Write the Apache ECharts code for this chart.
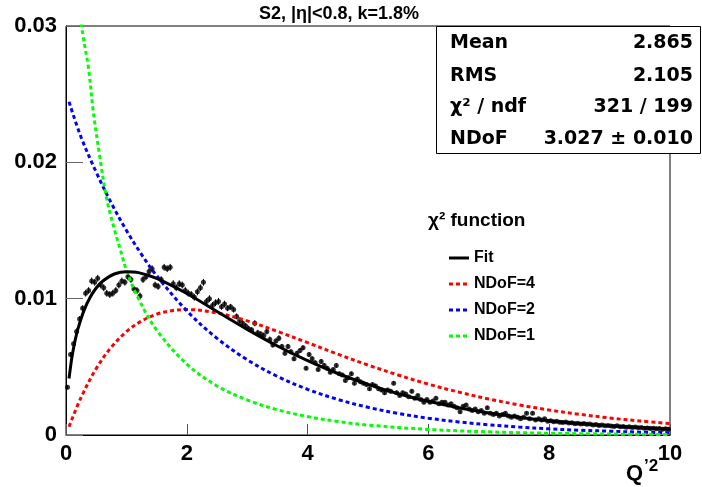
<!DOCTYPE html>
<html><head><meta charset="utf-8">
<script src="https://cdn.jsdelivr.net/npm/echarts@6/dist/echarts.min.js"></script>
<style>html,body{margin:0;padding:0;background:#fff}#c{width:702px;height:487px}</style>
</head><body><div id="c"></div>
<script>
// ---- data ----
const dataX = [
0.025,0.075,0.125,0.175,0.225,0.275,0.325,0.375,0.425,0.475,
0.525,0.575,0.625,0.675,0.725,0.775,0.825,0.875,0.925,0.975,
1.025,1.075,1.125,1.175,1.225,1.275,1.325,1.375,1.425,1.475,
1.525,1.575,1.625,1.675,1.725,1.775,1.825,1.875,1.925,1.975,
2.025,2.075,2.125,2.175,2.225,2.275,2.325,2.375,2.425,2.475,
2.525,2.575,2.625,2.675,2.725,2.775,2.825,2.875,2.925,2.975,
3.025,3.075,3.125,3.175,3.225,3.275,3.325,3.375,3.425,3.475,
3.525,3.575,3.625,3.675,3.725,3.775,3.825,3.875,3.925,3.975,
4.025,4.075,4.125,4.175,4.225,4.275,4.325,4.375,4.425,4.475,
4.525,4.575,4.625,4.675,4.725,4.775,4.825,4.875,4.925,4.975,
5.025,5.075,5.125,5.175,5.225,5.275,5.325,5.375,5.425,5.475,
5.525,5.575,5.625,5.675,5.725,5.775,5.825,5.875,5.925,5.975,
6.025,6.075,6.125,6.175,6.225,6.275,6.325,6.375,6.425,6.475,
6.525,6.575,6.625,6.675,6.725,6.775,6.825,6.875,6.925,6.975,
7.025,7.075,7.125,7.175,7.225,7.275,7.325,7.375,7.425,7.475,
7.525,7.575,7.625,7.675,7.725,7.775,7.825,7.875,7.925,7.975,
8.025,8.075,8.125,8.175,8.225,8.275,8.325,8.375,8.425,8.475,
8.525,8.575,8.625,8.675,8.725,8.775,8.825,8.875,8.925,8.975,
9.025,9.075,9.125,9.175,9.225,9.275,9.325,9.375,9.425,9.475,
9.525,9.575,9.625,9.675,9.725,9.775,9.825,9.875,9.925,9.975];
const dataY = [
0.0035,0.0059,0.0067,0.0076,0.0085,0.0093,0.0104,0.0106,0.0113,0.0112,
0.0115,0.0110,0.0108,0.0104,0.0103,0.0104,0.0106,0.0110,0.0113,0.0112,
0.0116,0.0114,0.0107,0.0106,0.0102,0.0114,0.0116,0.0120,0.0122,0.0110,
0.0109,0.0114,0.0123,0.0122,0.0123,0.0111,0.0108,0.0111,0.0110,0.0106,
0.0104,0.0103,0.0101,0.0105,0.0108,0.0112,0.0098,0.0100,0.0095,0.0097,
0.0098,0.0094,0.0096,0.0093,0.0094,0.0092,0.0087,0.0084,0.0082,0.0080,
0.0078,0.0077,0.0082,0.0075,0.0074,0.0073,0.0076,0.0070,0.0066,0.0069,
0.0071,0.0065,0.0060,0.0065,0.0061,0.0056,0.0060,0.0062,0.0064,0.0049,
0.0059,0.0056,0.0053,0.0048,0.0054,0.0051,0.0049,0.0046,0.0048,0.0051,
0.0045,0.0044,0.0040,0.0042,0.0045,0.0038,0.0041,0.0039,0.0038,0.0037,
0.0034,0.0037,0.0036,0.0034,0.0033,0.0031,0.0033,0.0032,0.0038,0.0031,
0.0029,0.0031,0.0030,0.0028,0.0032,0.0027,0.0029,0.0026,0.0024,0.0026,
0.0024,0.0025,0.0027,0.0023,0.0024,0.0024,0.0022,0.0023,0.0021,0.0020,
0.0017,0.0021,0.0022,0.0019,0.0018,0.0019,0.0017,0.0018,0.0016,0.0020,
0.0016,0.0015,0.0016,0.0014,0.0015,0.0016,0.0014,0.0013,0.0014,0.0013,
0.0012,0.0013,0.0016,0.0012,0.0016,0.0011,0.0012,0.0011,0.0012,0.0010,
0.00105,0.00098,0.00100,0.00094,0.00091,0.00095,0.00088,0.00090,0.00082,0.00086,
0.00080,0.00084,0.00078,0.00081,0.00074,0.00077,0.00070,0.00073,0.00068,0.00069,
0.00066,0.00063,0.00067,0.00060,0.00062,0.00057,0.00060,0.00055,0.00058,0.00053,
0.00055,0.00050,0.00052,0.00048,0.00050,0.00045,0.00047,0.00043,0.00046,0.00042];
const dataErr = [
0.00015,0.00018,0.00018,0.00022,0.00022,0.00022,0.00025,0.00025,0.00025,0.00025,
0.00025,0.00025,0.00025,0.00025,0.00025,0.00025,0.00025,0.00025,0.00025,0.00025,
0.00025,0.00025,0.00025,0.00025,0.00025,0.00025,0.00025,0.00025,0.00025,0.00025,
0.00025,0.00025,0.00025,0.00025,0.00025,0.00025,0.00025,0.00025,0.00025,0.00025,
0.00025,0.00025,0.00025,0.00025,0.00025,0.00025,0.00025,0.00025,0.00025,0.00025,
0.00025,0.00022,0.00025,0.00022,0.00022,0.00022,0.00022,0.00022,0.00022,0.00022,
0.00022,0.00022,0.00022,0.00022,0.00022,0.00022,0.00022,0.00022,0.00018,0.00018,
0.00022,0.00018,0.00018,0.00018,0.00018,0.00018,0.00018,0.00018,0.00018,0.00015,
0.00018,0.00018,0.00018,0.00015,0.00018,0.00018,0.00015,0.00015,0.00015,0.00018,
0.00015,0.00015,0.00015,0.00015,0.00015,0.00015,0.00015,0.00015,0.00015,0.00015,
0.00015,0.00015,0.00015,0.00015,0.00015,0.00015,0.00015,0.00015,0.00015,0.00015,
0.00011,0.00015,0.00015,0.00011,0.00015,0.00011,0.00011,0.00011,0.00011,0.00011,
0.00011,0.00011,0.00011,0.00011,0.00011,0.00011,0.00011,0.00011,0.00011,0.00011,
0.00011,0.00011,0.00011,0.00011,0.00011,0.00011,0.00011,0.00011,0.00011,0.00011,
0.00011,0.00011,0.00011,0.00008,0.00011,0.00011,0.00008,0.00008,0.00008,0.00008,
0.00008,0.00008,0.00011,0.00008,0.00011,0.00008,0.00008,0.00008,0.00008,0.00008,
0.00008,0.00008,0.00008,0.00008,0.00008,0.00008,0.00008,0.00008,0.00008,0.00008,
0.00008,0.00008,0.00008,0.00008,0.00008,0.00008,0.00008,0.00008,0.00008,0.00008,
0.00008,0.00008,0.00008,0.00008,0.00008,0.00008,0.00008,0.00008,0.00008,0.00008,
0.00008,0.00008,0.00008,0.00008,0.00008,0.00008,0.00008,0.00008,0.00008,0.00008];

const fitX = [0.05,0.1,0.15,0.2,0.3,0.4,0.5,0.6,0.8,1.0,1.2,1.5,2,2.5,3,3.5,4,4.5,5,5.5,6,6.5,7,7.5,8,8.5,9,9.5,10];
const fitY = [0.00414,0.00576,0.00692,0.00782,0.00916,0.01010,0.01078,0.01126,0.01181,0.01198,0.01191,0.01149,0.01038,0.00906,0.00775,0.00653,0.00545,0.00451,0.00371,0.00303,0.00247,0.00200,0.00162,0.00131,0.00105,0.000845,0.000678,0.000543,0.000434];

const ndf4X = [0.05,0.25,0.5,0.75,1,1.25,1.5,1.75,2,2.5,3,3.5,4,4.5,5,5.5,6,6.5,7,7.5,8,8.5,9,9.5,10];
const ndf4Y = [0.00061,0.00276,0.00487,0.00644,0.00758,0.00836,0.00886,0.00912,0.00920,0.00895,0.00837,0.00760,0.00677,0.00593,0.00513,0.00440,0.00373,0.00315,0.00264,0.00221,0.00183,0.00152,0.00125,0.00103,0.00084];

const ndf2X = [0.05,0.25,0.5,0.75,1,1.25,1.5,2,2.5,3,3.5,4,4.5,5,5.5,6,6.5,7,7.5,8,8.5,9,9.5,10];
const ndf2Y = [0.02444,0.02184,0.01928,0.01701,0.01501,0.01325,0.01169,0.00911,0.00709,0.00552,0.00430,0.00335,0.00261,0.00203,0.00158,0.00123,0.00096,0.00075,0.00058,0.00045,0.00035,0.00028,0.00021,0.00017];

const ndf1X = [0.25,0.3,0.37,0.45,0.56,0.675,0.8,0.9,1.0,1.2,1.5,2,2.5,3,3.5,4,4.5,5,6,7,8,9,10];
const ndf1Y = [0.0302,0.0288,0.0270,0.0238,0.0204,0.0173,0.0151,0.0136,0.0121,0.0100,0.0077,0.0052,0.0036,0.00257,0.00185,0.00135,0.00099,0.00073,0.00041,0.00023,0.00013,0.00007,0.00004];

const seriesNames = ['Fit','NDoF=4','NDoF=2','NDoF=1'];
const seriesColors = ['#000000','#ff0000','#0000ff','#00ff00'];
const titleText = 'S2, |η|<0.8, k=1.8%';
const statLabels = ['Mean','RMS','χ² / ndf','NDoF'];
const statValues = ['2.865','2.105','321 / 199','3.027 ± 0.010'];
const legendHeader = 'χ² function';

// ---- chart ----
const chart = echarts.init(document.getElementById('c'), null, {renderer:'canvas'});
const pairs = (xs, ys) => xs.map((x,i)=>[x, ys[i]]);
const LS = 'Liberation Sans, Arial, sans-serif';
const DJ = 'DejaVu Sans, sans-serif';
const DOT = [4,3];

const statTexts = [];
const statYs = [43, 76, 107, 139];
statLabels.forEach((t,i)=>{
  statTexts.push({type:'text', z:101, style:{text:t, x:450, y:statYs[i], textAlign:'left', textVerticalAlign:'middle', font:'bold 19px '+DJ, fill:'#000'}});
  statTexts.push({type:'text', z:101, style:{text:statValues[i], x:693, y:statYs[i], textAlign:'right', textVerticalAlign:'middle', font:'bold 19px '+DJ, fill:'#000'}});
});

// manual legend (line sample + label)
const legendYs = [258, 284, 310, 336];
const legendEls = [];
seriesNames.forEach((n,i)=>{
  legendEls.push({type:'line', z:50, shape:{x1:449, y1:legendYs[i], x2:469, y2:legendYs[i]},
    style:{stroke:seriesColors[i], lineWidth:3, lineDash: i===0 ? null : DOT}});
  legendEls.push({type:'text', z:50, style:{text:n, x:474, y:legendYs[i], textAlign:'left', textVerticalAlign:'middle', font:'bold 16px '+LS, fill:'#000'}});
});

const option = {
  animation:false,
  backgroundColor:'#fff',
  grid:{left:66, right:32, top:26, bottom:52, show:true, borderColor:'#000', borderWidth:1, backgroundColor:'transparent'},
  xAxis:{type:'value', min:0, max:10, interval:2,
    axisLine:{show:true, onZero:false, lineStyle:{color:'#000', width:1}},
    axisTick:{show:true, inside:true, length:11, lineStyle:{color:'#555'}},
    splitLine:{show:false},
    axisLabel:{fontFamily:LS, fontWeight:'bold', fontSize:22, color:'#000', margin:8}},
  yAxis:{type:'value', min:0, max:0.03, interval:0.01,
    axisLine:{show:true, onZero:false, lineStyle:{color:'#000', width:1}},
    axisTick:{show:true, inside:true, length:17, lineStyle:{color:'#666'}},
    splitLine:{show:false},
    axisLabel:{fontFamily:LS, fontWeight:'bold', fontSize:22, color:'#000', margin:9,
      formatter:v => v===0 ? '0' : v.toFixed(2)}},
  graphic:[
    {type:'text', style:{text:titleText, x:339, y:14, textAlign:'center', textVerticalAlign:'middle', font:'bold 18px '+LS, fill:'#000'}},
    {type:'rect', z:100, shape:{x:436.5, y:26.5, width:264, height:127}, style:{fill:'#fff', stroke:'#000', lineWidth:1}},
    ...statTexts,
    {type:'text', style:{text:legendHeader, x:428, y:221, textAlign:'left', textVerticalAlign:'middle', font:'bold 19px '+LS, fill:'#000'}},
    ...legendEls,
    {type:'text', style:{text:'Q', x:626, y:474, textAlign:'left', textVerticalAlign:'middle', font:'bold 22px '+LS, fill:'#000'}},
    {type:'text', style:{text:'’2', x:644, y:466, textAlign:'left', textVerticalAlign:'middle', font:'bold 17px '+LS, fill:'#000'}}
  ],
  series:[
    {type:'custom', name:'errors', silent:true, z:2,
      data:dataX.map((x,i)=>[x, dataY[i], dataErr[i]]),
      encode:{x:0, y:1},
      renderItem:(params, api)=>{
        const x=api.value(0), y=api.value(1), e=api.value(2);
        const p1=api.coord([x, y-e]), p2=api.coord([x, y+e]);
        return {type:'line', shape:{x1:p1[0], y1:p1[1], x2:p2[0], y2:p2[1]}, style:{stroke:'#000', lineWidth:1}};
      }},
    {type:'scatter', name:'data', silent:true, z:3, symbol:'circle', symbolSize:5, itemStyle:{color:'#000'},
      data:pairs(dataX, dataY)},
    {type:'line', name:seriesNames[0], z:5, smooth:0.35, symbol:'none', showSymbol:false,
      lineStyle:{color:seriesColors[0], width:3}, itemStyle:{color:seriesColors[0]}, data:pairs(fitX, fitY)},
    {type:'line', name:seriesNames[1], z:4, smooth:0.35, symbol:'none', showSymbol:false,
      lineStyle:{color:seriesColors[1], width:3, type:DOT}, itemStyle:{color:seriesColors[1]}, data:pairs(ndf4X, ndf4Y)},
    {type:'line', name:seriesNames[2], z:4, smooth:0.35, symbol:'none', showSymbol:false,
      lineStyle:{color:seriesColors[2], width:3, type:DOT}, itemStyle:{color:seriesColors[2]}, data:pairs(ndf2X, ndf2Y)},
    {type:'line', name:seriesNames[3], z:4, smooth:0.35, symbol:'none', showSymbol:false,
      lineStyle:{color:seriesColors[3], width:3, type:DOT}, itemStyle:{color:seriesColors[3]}, data:pairs(ndf1X, ndf1Y)}
  ]
};
chart.setOption(option);
</script></body></html>
